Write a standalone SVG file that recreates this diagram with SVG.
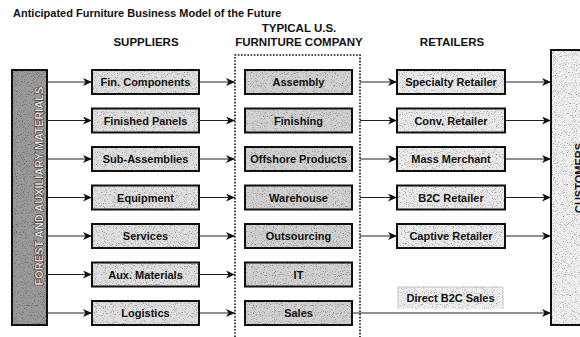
<svg xmlns="http://www.w3.org/2000/svg" width="580" height="337" viewBox="0 0 580 337">
  <defs>
    <!-- stippled print grain, multiplied onto flat fills -->
    <filter id="grain" x="0" y="0" width="100%" height="100%" color-interpolation-filters="sRGB">
      <feTurbulence type="fractalNoise" baseFrequency="0.9" numOctaves="2" seed="7" result="noise"/>
      <feColorMatrix in="noise" type="matrix" values="1 0 0 0 0  1 0 0 0 0  1 0 0 0 0  0 0 0 0 1" result="grey"/>
      <feComponentTransfer in="grey" result="tone">
        <feFuncR type="linear" slope="1.3" intercept="0.4"/>
        <feFuncG type="linear" slope="1.3" intercept="0.4"/>
        <feFuncB type="linear" slope="1.3" intercept="0.4"/>
      </feComponentTransfer>
      <feBlend in="SourceGraphic" in2="tone" mode="multiply" result="mix"/>
      <feComposite in="mix" in2="SourceGraphic" operator="in"/>
    </filter>
    <marker id="arrow" viewBox="0 0 9 8" refX="9" refY="4" markerWidth="9" markerHeight="8" markerUnits="userSpaceOnUse" orient="auto">
      <path d="M0,0 L9,4 L0,8 L2.5,4 Z" fill="#111"/>
    </marker>
    <style>
      .title { font-family: "Liberation Sans", Arial, sans-serif; font-weight: bold; font-size: 11px; fill: #111; }
      .head { font-family: "Liberation Sans", Arial, sans-serif; font-weight: bold; font-size: 11.5px; fill: #111; text-anchor: middle; }
      .lbl { font-family: "Liberation Sans", Arial, sans-serif; font-weight: bold; font-size: 11px; fill: #111; text-anchor: middle; }
      .box { stroke: #111; stroke-width: 2; }
      .sup { fill: #e0e0e0; }
      .mid { fill: #d2d2d2; }
      .ret { fill: #ebebeb; }
      .tex { filter: url(#grain); }
      .conn line { stroke: #222; stroke-width: 1.1; fill: none; marker-end: url(#arrow); }
      .side { font-family: "Liberation Sans", Arial, sans-serif; font-weight: bold; font-size: 11px; text-anchor: middle; fill: #d8d8d8; stroke: #1a1a1a; stroke-width: 0.9; paint-order: stroke; }
    </style>
  </defs>

  <rect width="580" height="337" fill="#ffffff"/>

  <!-- headings -->
  <text class="title" x="13" y="17">Anticipated Furniture Business Model of the Future</text>
  <text class="head" x="146" y="46">SUPPLIERS</text>
  <text class="head" x="299" y="32">TYPICAL U.S.</text>
  <text class="head" x="299" y="46">FURNITURE COMPANY</text>
  <text class="head" x="452" y="46">RETAILERS</text>

  <!-- company boundary (dotted, open at bottom) -->
  <path d="M235,337 V55 H360 V337" fill="none" stroke="#111" stroke-width="1.6" stroke-dasharray="1.6 1.6"/>

  <!-- raw material source -->
  <g id="forest">
    <rect class="tex" x="12" y="70" width="35" height="255" fill="#9a9a9a"/>
    <rect class="box" x="12" y="70" width="35" height="255" fill="none"/>
    <text class="side" transform="translate(42.5,186) rotate(-90)">FOREST AND AUXILIARY MATERIALS</text>
  </g>

  <!-- customers -->
  <g id="customers">
    <rect class="tex" x="551" y="50" width="40" height="275" fill="#f0f0f0"/>
    <rect class="box" x="551" y="50" width="40" height="275" fill="none"/>
    <text class="lbl" transform="translate(583,178) rotate(-90)">CUSTOMERS</text>
  </g>

  <!-- suppliers -->
  <g id="fin-components"><rect class="sup tex" x="92" y="70" width="107" height="24"/><rect class="box" x="92" y="70" width="107" height="24" fill="none"/><text class="lbl" x="145.5" y="86">Fin. Components</text></g>
  <g id="finished-panels"><rect class="sup tex" x="92" y="108.5" width="107" height="24"/><rect class="box" x="92" y="108.5" width="107" height="24" fill="none"/><text class="lbl" x="145.5" y="124.5">Finished Panels</text></g>
  <g id="sub-assemblies"><rect class="sup tex" x="92" y="147" width="107" height="24"/><rect class="box" x="92" y="147" width="107" height="24" fill="none"/><text class="lbl" x="145.5" y="163">Sub-Assemblies</text></g>
  <g id="equipment"><rect class="sup tex" x="92" y="185.5" width="107" height="24"/><rect class="box" x="92" y="185.5" width="107" height="24" fill="none"/><text class="lbl" x="145.5" y="201.5">Equipment</text></g>
  <g id="services"><rect class="sup tex" x="92" y="224" width="107" height="24"/><rect class="box" x="92" y="224" width="107" height="24" fill="none"/><text class="lbl" x="145.5" y="240">Services</text></g>
  <g id="aux-materials"><rect class="sup tex" x="92" y="262.5" width="107" height="24"/><rect class="box" x="92" y="262.5" width="107" height="24" fill="none"/><text class="lbl" x="145.5" y="278.5">Aux. Materials</text></g>
  <g id="logistics"><rect class="sup tex" x="92" y="301" width="107" height="24"/><rect class="box" x="92" y="301" width="107" height="24" fill="none"/><text class="lbl" x="145.5" y="317">Logistics</text></g>

  <!-- company functions -->
  <g id="assembly"><rect class="mid tex" x="245" y="70" width="107" height="24"/><rect class="box" x="245" y="70" width="107" height="24" fill="none"/><text class="lbl" x="298.5" y="86">Assembly</text></g>
  <g id="finishing"><rect class="mid tex" x="245" y="108.5" width="107" height="24"/><rect class="box" x="245" y="108.5" width="107" height="24" fill="none"/><text class="lbl" x="298.5" y="124.5">Finishing</text></g>
  <g id="offshore"><rect class="mid tex" x="245" y="147" width="107" height="24"/><rect class="box" x="245" y="147" width="107" height="24" fill="none"/><text class="lbl" x="298.5" y="163">Offshore Products</text></g>
  <g id="warehouse"><rect class="mid tex" x="245" y="185.5" width="107" height="24"/><rect class="box" x="245" y="185.5" width="107" height="24" fill="none"/><text class="lbl" x="298.5" y="201.5">Warehouse</text></g>
  <g id="outsourcing"><rect class="mid tex" x="245" y="224" width="107" height="24"/><rect class="box" x="245" y="224" width="107" height="24" fill="none"/><text class="lbl" x="298.5" y="240">Outsourcing</text></g>
  <g id="it"><rect class="mid tex" x="245" y="262.5" width="107" height="24"/><rect class="box" x="245" y="262.5" width="107" height="24" fill="none"/><text class="lbl" x="298.5" y="278.5">IT</text></g>
  <g id="sales"><rect class="mid tex" x="245" y="301" width="107" height="24"/><rect class="box" x="245" y="301" width="107" height="24" fill="none"/><text class="lbl" x="298.5" y="317">Sales</text></g>

  <!-- retailers -->
  <g id="specialty"><rect class="ret tex" x="397" y="70" width="108" height="24"/><rect class="box" x="397" y="70" width="108" height="24" fill="none"/><text class="lbl" x="451" y="86">Specialty Retailer</text></g>
  <g id="conv"><rect class="ret tex" x="397" y="108.5" width="108" height="24"/><rect class="box" x="397" y="108.5" width="108" height="24" fill="none"/><text class="lbl" x="451" y="124.5">Conv. Retailer</text></g>
  <g id="mass"><rect class="ret tex" x="397" y="147" width="108" height="24"/><rect class="box" x="397" y="147" width="108" height="24" fill="none"/><text class="lbl" x="451" y="163">Mass Merchant</text></g>
  <g id="b2c"><rect class="ret tex" x="397" y="185.5" width="108" height="24"/><rect class="box" x="397" y="185.5" width="108" height="24" fill="none"/><text class="lbl" x="451" y="201.5">B2C Retailer</text></g>
  <g id="captive"><rect class="ret tex" x="397" y="224" width="108" height="24"/><rect class="box" x="397" y="224" width="108" height="24" fill="none"/><text class="lbl" x="451" y="240">Captive Retailer</text></g>
  <g id="direct"><rect class="tex" x="398" y="287" width="105" height="22" fill="#f0f0f0"/><path d="M398,309 V287 H503 V309" fill="none" stroke="#c4c4c4" stroke-width="1"/><text class="lbl" x="450.5" y="302">Direct B2C Sales</text></g>

  <!-- connectors -->
  <g id="connectors" class="conn">
    <line x1="47" y1="82" x2="92" y2="82"/>
    <line x1="47" y1="120.5" x2="92" y2="120.5"/>
    <line x1="47" y1="159" x2="92" y2="159"/>
    <line x1="47" y1="197.5" x2="92" y2="197.5"/>
    <line x1="47" y1="236" x2="92" y2="236"/>
    <line x1="47" y1="274.5" x2="92" y2="274.5"/>
    <line x1="47" y1="313" x2="92" y2="313"/>

    <line x1="199" y1="82" x2="235" y2="82"/>
    <line x1="199" y1="120.5" x2="235" y2="120.5"/>
    <line x1="199" y1="159" x2="235" y2="159"/>
    <line x1="199" y1="197.5" x2="235" y2="197.5"/>
    <line x1="199" y1="236" x2="235" y2="236"/>
    <line x1="199" y1="274.5" x2="235" y2="274.5"/>
    <line x1="199" y1="313" x2="235" y2="313"/>

    <line x1="360" y1="82" x2="397" y2="82"/>
    <line x1="360" y1="120.5" x2="397" y2="120.5"/>
    <line x1="360" y1="159" x2="397" y2="159"/>
    <line x1="360" y1="197.5" x2="397" y2="197.5"/>
    <line x1="360" y1="236" x2="397" y2="236"/>

    <line x1="505" y1="82" x2="551" y2="82"/>
    <line x1="505" y1="120.5" x2="551" y2="120.5"/>
    <line x1="505" y1="159" x2="551" y2="159"/>
    <line x1="505" y1="197.5" x2="551" y2="197.5"/>
    <line x1="505" y1="236" x2="551" y2="236"/>

    <line x1="352" y1="313" x2="551" y2="313"/>
  </g>
</svg>
